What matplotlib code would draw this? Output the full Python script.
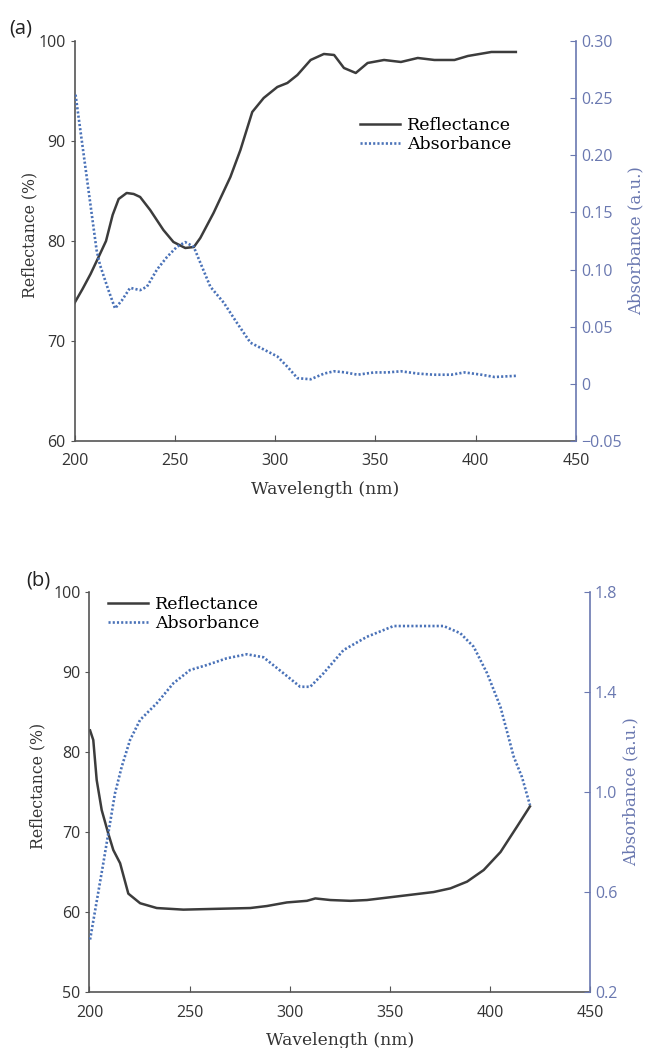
import numpy as np
import matplotlib.pyplot as plt

# ---- panel (a) data ----
wl_a_refl = [200, 204, 208, 212, 215.7, 219, 222, 226, 229.5, 232.7, 237.7, 244.3, 249.3, 255.2,
             259.5, 262.7, 269.3, 277.7, 282.7, 288.6, 294.3, 301.1, 306.1, 311.1, 317.7, 324.3,
             329.4, 334.3, 340.2, 346.1, 354.3, 362.7, 371.1, 379.4, 389.4, 396.1, 407.8, 420]
refl_a = [73.8, 75.2, 76.7, 78.4, 80.0, 82.6, 84.2, 84.8, 84.7, 84.4, 83.1, 81.1, 79.9, 79.3,
          79.4, 80.3, 82.8, 86.4, 89.1, 92.9, 94.3, 95.4, 95.8, 96.6, 98.1, 98.7,
          98.6, 97.3, 96.8, 97.8, 98.1, 97.9, 98.3, 98.1, 98.1, 98.5, 98.9, 98.9]

wl_a_abs = [200.5, 205, 211, 212.7, 216.9, 220.2, 223.6, 227.7, 232.7, 236.1, 241.1, 246.1, 251.1,
            255.2, 259.4, 262.7, 267.7, 274.4, 281.1, 287.7, 294.4, 301.1, 306.1, 311.1, 317.7,
            324.4, 329.4, 335, 341.1, 349.4, 356, 362.7, 371.1, 379, 387.8, 394.4, 402.8, 409.4, 420]
abs_a = [0.253, 0.195, 0.117, 0.104, 0.082, 0.066, 0.073, 0.084, 0.082, 0.085, 0.100, 0.111, 0.120,
         0.124, 0.120, 0.106, 0.085, 0.071, 0.053, 0.036, 0.030, 0.024, 0.015, 0.005, 0.004,
         0.009, 0.011, 0.010, 0.008, 0.010, 0.010, 0.011, 0.009, 0.008, 0.008, 0.010, 0.008, 0.006, 0.007]

# ---- panel (b) data ----
wl_b_refl = [200.3, 201.9, 203.6, 206.1, 209.4, 211.9, 215.3, 219.4, 225.3, 233.6, 246.9, 263.6,
             280.3, 288.6, 298.6, 308.6, 312.8, 320.3, 330.3, 338.6, 355.3, 371.9, 380.3, 388.6,
             396.9, 405.3, 413.6, 420]
refl_b = [82.7, 81.5, 76.5, 72.75, 69.8, 67.75, 66.1, 62.3, 61.1, 60.5, 60.3, 60.4,
          60.5, 60.75, 61.2, 61.4, 61.7, 61.5, 61.4, 61.5, 62.0, 62.5, 62.96, 63.8,
          65.25, 67.5, 70.7, 73.2]

wl_b_abs = [200.3, 206.9, 212.75, 216.1, 220.25, 225.25, 233.6, 241.9, 250.25, 258.6, 268.6, 278.6,
            286.9, 296.9, 305.25, 310.25, 316.9, 326.9, 338.6, 351.9, 363.6, 376.9, 385.25, 391.9,
            398.6, 405.25, 411.9, 416, 420]
abs_b = [0.41, 0.715, 0.995, 1.101, 1.208, 1.288, 1.355, 1.435, 1.488, 1.508, 1.535, 1.551,
         1.539, 1.475, 1.421, 1.421, 1.475, 1.568, 1.621, 1.664, 1.664, 1.664, 1.635, 1.581,
         1.475, 1.341, 1.141, 1.06, 0.948]

black = '#3c3c3c'
blue = '#4a72b8'
axblue = '#6a78b0'
serif = 'DejaVu Serif'
plt.rcParams['font.family'] = ['Open Sans', 'DejaVu Sans']

fig = plt.figure(figsize=(6.56, 10.48), dpi=100)


def panel(rect, wl_r, r, wl_a, a, rlim, rticks, alim, aticks, afmt, leg_anchor, ylab_xy,
          tag, tagpos):
    ax = fig.add_axes(rect)
    ax2 = ax.twinx()
    l1, = ax.plot(wl_r, r, color=black, lw=1.8, label='Reflectance')
    l2, = ax2.plot(wl_a, a, color=blue, lw=1.9, ls=(0, (0.8, 0.8)), label='Absorbance')
    ax.set_xlim(200, 450)
    ax.set_ylim(*rlim)
    ax.set_yticks(rticks)
    ax.set_xticks([200, 250, 300, 350, 400, 450])
    ax2.set_ylim(*alim)
    ax2.set_yticks(aticks)
    ax2.set_yticklabels([afmt(v) for v in aticks])
    ax.spines['top'].set_visible(False)
    ax2.spines['top'].set_visible(False)
    ax.spines['right'].set_visible(False)
    ax2.spines['left'].set_visible(False)
    ax2.spines['bottom'].set_visible(False)
    for s in ['left', 'bottom']:
        ax.spines[s].set_color('#555555')
        ax.spines[s].set_linewidth(1.2)
    ax2.spines['right'].set_color(axblue)
    ax2.spines['right'].set_linewidth(1.2)
    ax.tick_params(axis='y', direction='out', length=3, colors='#555555', labelcolor='#333333',
                   labelsize=11.5)
    ax.tick_params(axis='x', direction='in', length=4, pad=9, colors='#555555',
                   labelcolor='#333333', labelsize=11.5)
    ax2.tick_params(axis='y', direction='in', length=4, colors=axblue, labelcolor=axblue,
                    labelsize=11.5)
    ax.set_xlabel('Wavelength (nm)', family=serif, fontsize=12.3, color='#333333', labelpad=8)
    ax.set_ylabel('Reflectance (%)', family=serif, fontsize=11.3, color='#333333')
    ax.yaxis.set_label_coords(*ylab_xy)
    ax2.set_ylabel('Absorbance (a.u.)', family=serif, fontsize=12, color=axblue)
    ax.legend(handles=[l1, l2], loc='upper left', bbox_to_anchor=leg_anchor, frameon=False,
              prop={'family': serif, 'size': 12.5}, handlelength=2.3, handletextpad=0.4,
              labelspacing=0.1, borderaxespad=0, borderpad=0)
    fig.text(tagpos[0], tagpos[1], tag, fontsize=14.5, color='#222222')
    return ax, ax2


panel([0.1136, 0.5792, 0.7645, 0.3817], wl_a_refl, refl_a, wl_a_abs, abs_a,
      (60, 100), [60, 70, 80, 90, 100], (-0.05, 0.30),
      [-0.05, 0, 0.05, 0.10, 0.15, 0.20, 0.25, 0.30],
      lambda v: '0' if v == 0 else ('\u22120.05' if v < 0 else f'{v:.2f}'),
      (0.569, 0.81), (-0.072, 0.515), '(a)', (0.014, 0.968))

panel([0.1364, 0.0534, 0.763, 0.3817], wl_b_refl, refl_b, wl_b_abs, abs_b,
      (50, 100), [50, 60, 70, 80, 90, 100], (0.2, 1.8), [0.2, 0.6, 1.0, 1.4, 1.8],
      lambda v: f'{v:.1f}', (0.037, 0.99), (-0.086, 0.515), '(b)', (0.04, 0.441))

fig.savefig('out.png', dpi=100)
